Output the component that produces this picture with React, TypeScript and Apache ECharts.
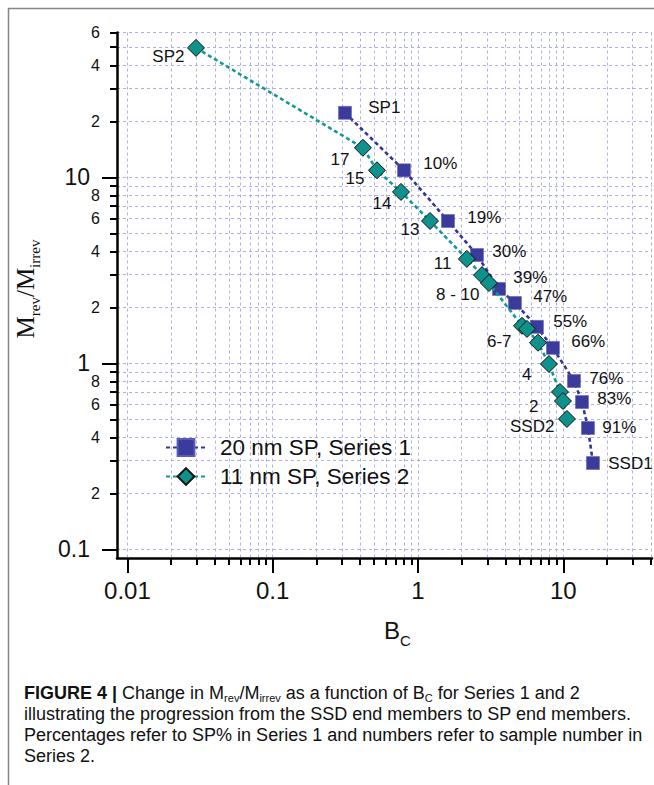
import React, { useEffect, useRef } from 'react';
import * as echarts from 'echarts';

// ---- data ----
const series1Name = '20 nm SP, Series 1';
const series2Name = '11 nm SP, Series 2';

const s1Labels = ['SP1', '10%', '19%', '30%', '39%', '47%', '55%', '66%', '76%', '83%', '91%', 'SSD1'];
const s1Bc = [0.3145, 0.801, 1.609, 2.547, 3.61, 4.65, 6.59, 8.49, 11.85, 13.45, 14.79, 16.01];
const s1Ratio = [22.2, 10.9, 5.82, 3.82, 2.51, 2.11, 1.57, 1.21, 0.803, 0.619, 0.449, 0.291];

const s2Labels = ['SP2', '17', '15', '14', '13', '11', '8 - 10', '', '6-7', '', '', '4', '', '2', 'SSD2'];
const s2Bc = [0.02965, 0.418, 0.522, 0.764, 1.21, 2.17, 2.76, 3.08, 5.2, 5.63, 6.7, 7.97, 9.49, 9.95, 10.6];
const s2Ratio = [49.6, 14.4, 10.9, 8.34, 5.82, 3.64, 2.98, 2.7, 1.59, 1.53, 1.29, 0.991, 0.701, 0.627, 0.502];

// ---- axis ticks / labels ----
const xMinorTicks = [0.02, 0.03, 0.04, 0.05, 0.06, 0.07, 0.08, 0.09, 0.2, 0.3, 0.4, 0.5, 0.6, 0.7, 0.8, 0.9, 2, 3, 4, 5, 6, 7, 8, 9, 20, 30, 40];
const xMajorTicks = [0.01, 0.1, 1, 10];
const yMinorTicks = [0.2, 0.3, 0.4, 0.5, 0.6, 0.7, 0.8, 0.9, 2, 3, 4, 5, 6, 7, 8, 9, 20, 30, 40, 50, 60];
const yMinorLabels = [0.2, 0.4, 0.6, 0.8, 2, 4, 6, 8, 20, 40, 60];
const yMajorTicks = [0.1, 1, 10];

const X_MIN = 0.00848;
const X_MAX = 40.8;
const Y_MIN = 0.0898;
const Y_MAX = 60;

// label offsets (styling)
const s1Offsets = [[16.5, -5], [12.5, -7], [12.5, -3], [8.5, -4], [7.5, -11], [11.5, -6], [9.5, -5], [11.5, -6], [8.5, -3], [8.5, -4], [7.5, 0], [8.5, 0]];
const s2Offsets = [[-2.5, 9], [-4.5, 12], [-3.5, 8], [-0.5, 12], [-1.5, 9], [-6.5, 5], [6.5, 19], [0, 0], [-1.5, 16], [0, 0], [0, 0], [-8.5, 10], [0, 0], [-15.5, 6], [-3.5, 8]];

const SANS = 'Liberation Sans, Arial, sans-serif';
const SERIF = 'Liberation Serif, Times New Roman, serif';

const C1 = '#3b3b9b';
const C1L = '#3434a0';
const C2 = '#0f928c';
const C2L = '#149892';

export default function App() {
  const ref = useRef<HTMLDivElement>(null);

  useEffect(() => {
    if (!ref.current) return;
    const chart = echarts.init(ref.current, undefined, { renderer: 'svg' });

    const gridLine = { show: true, lineStyle: { color: '#b0b0e6', type: [3, 3] as any, width: 1 } };
    const tickStyle = { color: '#000', width: 2 };

    const s1Data = s1Bc.map((x, i) => ({
      value: [x, s1Ratio[i]],
      label: { show: true, formatter: s1Labels[i], offset: s1Offsets[i] },
    }));
    const s2Data = s2Bc.map((x, i) => ({
      value: [x, s2Ratio[i]],
      label: { show: s2Labels[i] !== '', formatter: s2Labels[i], offset: s2Offsets[i] },
    }));

    const labelText = { fontFamily: SANS, fontSize: 17, color: '#111' };
    const CAP = 18;

    const option: any = {
      animation: false,
      backgroundColor: '#fff',
      grid: { left: 117, right: 2, top: 32.5, bottom: 227, containLabel: false },
      xAxis: [
        {
          type: 'log', logBase: 10, position: 'bottom', min: X_MIN, max: X_MAX,
          axisLine: { show: true, onZero: false, lineStyle: { color: '#000', width: 2.5 } },
          axisTick: { show: true, customValues: xMinorTicks, length: 7, lineStyle: tickStyle },
          axisLabel: { show: false },
          splitLine: gridLine,
          minorTick: { show: false }, minorSplitLine: { show: false },
        },
        {
          type: 'log', logBase: 10, position: 'bottom', min: X_MIN, max: X_MAX,
          axisLine: { show: false, onZero: false },
          axisTick: { show: true, customValues: xMajorTicks, length: 15, lineStyle: tickStyle },
          axisLabel: {
            show: true, customValues: xMajorTicks, margin: 20,
            formatter: (v: number) => String(v), fontSize: 24, fontFamily: SANS, color: '#111',
          },
          splitLine: gridLine,
          minorTick: { show: false }, minorSplitLine: { show: false },
        },
      ],
      yAxis: [
        {
          type: 'log', logBase: 10, position: 'left', min: Y_MIN, max: Y_MAX,
          axisLine: { show: true, onZero: false, lineStyle: { color: '#000', width: 2.5 } },
          axisTick: { show: true, customValues: yMinorTicks, length: 7, lineStyle: tickStyle },
          axisLabel: {
            show: true, customValues: yMinorLabels, margin: 17,
            formatter: (v: number) => String(Math.round(v / Math.pow(10, Math.floor(Math.log10(v) + 1e-9)))),
            fontSize: 16, fontFamily: SANS, color: '#111',
          },
          splitLine: gridLine,
          minorTick: { show: false }, minorSplitLine: { show: false },
        },
        {
          type: 'log', logBase: 10, position: 'left', min: Y_MIN, max: Y_MAX,
          axisLine: { show: false, onZero: false },
          axisTick: { show: true, customValues: yMajorTicks, length: 15, lineStyle: tickStyle },
          axisLabel: {
            show: true, customValues: yMajorTicks, margin: 27,
            formatter: (v: number) => String(v), fontSize: 23, fontFamily: SANS, color: '#111',
          },
          splitLine: gridLine,
          minorTick: { show: false }, minorSplitLine: { show: false },
        },
      ],
      legend: {
        show: true, left: 160, top: 431, orient: 'vertical', selectedMode: false,
        itemWidth: 40, itemHeight: 21, itemGap: 6,
        textStyle: { fontSize: 22.5, fontFamily: SANS, color: '#111', padding: [0, 0, 0, 9] },
        data: [series1Name, series2Name],
      },
      series: [
        {
          name: series1Name, type: 'line', xAxisIndex: 0, yAxisIndex: 0,
          data: s1Data, symbol: 'rect', symbolSize: 13,
          itemStyle: { color: C1, borderColor: '#5a5ab8', borderWidth: 0.5 },
          lineStyle: { color: C1L, width: 2.6, type: [4, 3] },
          label: { position: 'right', distance: 0, ...labelText },
          z: 3,
        },
        {
          name: series2Name, type: 'line', xAxisIndex: 0, yAxisIndex: 0,
          data: s2Data, symbol: 'diamond', symbolSize: 17,
          itemStyle: { color: C2, borderColor: '#111', borderWidth: 1 },
          lineStyle: { color: C2L, width: 2.6, type: [4, 3] },
          label: { position: 'left', distance: 0, ...labelText },
          z: 4,
        },
      ],
      graphic: [
        { type: 'line', shape: { x1: 8, y1: 8.5, x2: 654, y2: 8.5 }, style: { stroke: '#858585', lineWidth: 1.5 }, silent: true },
        { type: 'line', shape: { x1: 8.5, y1: 8, x2: 8.5, y2: 785 }, style: { stroke: '#858585', lineWidth: 1.5 }, silent: true },
        {
          type: 'text', x: 25, y: 289, rotation: Math.PI / 2,
          style: {
            text: '{m|M}{s|rev}{m|/M}{s|irrev}',
            align: 'center', verticalAlign: 'middle',
            rich: {
              m: { fontFamily: SERIF, fontSize: 25, lineHeight: 30, fill: '#111' },
              s: { fontFamily: SERIF, fontSize: 15, lineHeight: 15, padding: [20, 0, 0, 0], fill: '#111' },
            },
          },
        },
        {
          type: 'text', x: 384, y: 630,
          style: {
            text: '{m|B}{s|C}',
            align: 'left', verticalAlign: 'middle',
            rich: {
              m: { fontFamily: SANS, fontSize: 24, lineHeight: 28, fill: '#111' },
              s: { fontFamily: SANS, fontSize: 15, lineHeight: 15, padding: [20, 0, 0, 0], fill: '#111' },
            },
          },
        },
        {
          type: 'text', x: 24, y: 693,
          style: {
            text: '{b|FIGURE 4 |}{r| Change in M}{s|rev}{r|/M}{s|irrev}{r| as a function of B}{s|C}{r| for Series 1 and 2}',
            align: 'left', verticalAlign: 'middle',
            rich: {
              b: { fontFamily: SANS, fontSize: CAP, fontWeight: 'bold', lineHeight: 20, fill: '#111' },
              r: { fontFamily: SANS, fontSize: CAP, lineHeight: 20, fill: '#111' },
              s: { fontFamily: SANS, fontSize: 11, lineHeight: 11, padding: [9, 0, 0, 0], fill: '#111' },
            },
          },
        },
        {
          type: 'text', x: 24, y: 714,
          style: { text: 'illustrating the progression from the SSD end members to SP end members.', fontFamily: SANS, fontSize: CAP, fill: '#111', align: 'left', verticalAlign: 'middle' },
        },
        {
          type: 'text', x: 24, y: 735,
          style: { text: 'Percentages refer to SP% in Series 1 and numbers refer to sample number in', fontFamily: SANS, fontSize: CAP, fill: '#111', align: 'left', verticalAlign: 'middle' },
        },
        {
          type: 'text', x: 24, y: 756,
          style: { text: 'Series 2.', fontFamily: SANS, fontSize: CAP, fill: '#111', align: 'left', verticalAlign: 'middle' },
        },
      ],
    };

    chart.setOption(option);
    return () => chart.dispose();
  }, []);

  return <div ref={ref} style={{ position: 'absolute', left: 0, top: 0, width: 654, height: 785 }} />;
}
